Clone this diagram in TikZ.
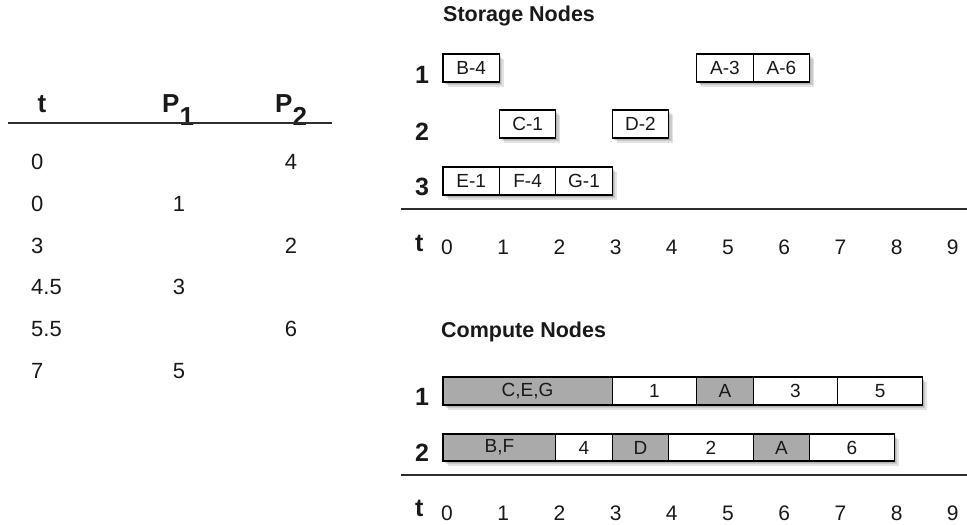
\documentclass[tikz,border=0pt]{standalone}
\usepackage{fontspec}
\setmainfont{Liberation Sans}
\usetikzlibrary{calc,backgrounds}
\definecolor{boxgray}{RGB}{170,170,170}
\definecolor{linecol}{RGB}{45,45,45}
\definecolor{txtcol}{RGB}{25,25,25}
\begin{document}
\begin{tikzpicture}[x=1pt,y=-1pt,
  every node/.style={text=txtcol},
  cell/.style={draw=black, line width=1.1pt, fill=white, minimum height=28pt, inner sep=0pt, outer sep=0pt,
    anchor=north west, font=\fontsize{19}{21}\selectfont, minimum width=#1*56.4pt},
  gcell/.style={cell=#1, fill=boxgray},
  rowlab/.style={anchor=base west, inner sep=0pt, font=\bfseries\fontsize{25}{27}\selectfont},
  tick/.style={anchor=base, inner sep=0pt, font=\fontsize{21}{23}\selectfont},
  tval/.style={anchor=base, inner sep=0pt, font=\fontsize{22}{24}\selectfont},
  thead/.style={anchor=base west, inner sep=0pt, font=\bfseries\fontsize{26}{28}\selectfont},
  title/.style={anchor=base west, inner sep=0pt, font=\bfseries\fontsize{21.5}{23}\selectfont},
  rule/.style={draw=linecol, line width=1.4pt},
  shadowA/.style={fill=black, opacity=0.11},
]
\useasboundingbox (0,0) rectangle (967,525);

% ---------- left table ----------
\node[thead, anchor=base] (th) at (42,112) {t};
\node[thead] (p1) at (162,112) {P\raisebox{-13pt}{1}};
\node[thead] (p2) at (275,112) {P\raisebox{-13pt}{2}};
\coordinate (tl) at (8,123);
\coordinate (tr) at (332,123);
\draw[rule] (tl) -- (tr);

\foreach \y/\t/\a/\b [count=\i] in {169/0//4, 211/0/1/, 253/3//2, 294/4.5/3/, 336/5.5//6, 378/7/5/}{
  \node[tval, anchor=base west] (tt\i) at (31,\y) {\t};
  \node[tval] (ta\i) at (179,\y) {\a};
  \node[tval] (tb\i) at (291,\y) {\b};
}

% ---------- storage nodes ----------
\node[title] (stitle) at (443,21) {Storage Nodes};
\node[rowlab] (sr1) at (415,83) {1};
\node[rowlab] (sr2) at (415,140) {2};
\node[rowlab] (sr3) at (415,195) {3};

\node[cell=1] (B4) at (443,54) {B-4};
\node[cell=1] (A3) at ({443+4.5*56.4},54) {A-3};
\node[cell=1] (A6) at ({443+5.5*56.4},54) {A-6};
\node[cell=1] (C1) at ({443+1*56.4},110) {C-1};
\node[cell=1] (D2) at ({443+3*56.4},110) {D-2};
\node[cell=1] (E1) at (443,167) {E-1};
\node[cell=1] (F4) at ({443+1*56.4},167) {F-4};
\node[cell=1] (G1) at ({443+2*56.4},167) {G-1};

\coordinate (sl) at (401,209);
\coordinate (sr) at (967,209);
\draw[rule] (sl) -- (sr);

\node[rowlab] (st) at (415,251) {t};
\foreach \k in {0,...,9}{
  \node[tick] (sx\k) at ({447+56.2*\k},254) {\k};
}

% ---------- compute nodes ----------
\node[title] (ctitle) at (441,337) {Compute Nodes};
\node[rowlab] (cr1) at (415,405) {1};
\node[rowlab] (cr2) at (415,461) {2};

\node[gcell=3] (c1a) at (443,377) {C,E,G};
\node[cell=1.5] (c1b) at ({443+3*56.4},377) {1};
\node[gcell=1] (c1c) at ({443+4.5*56.4},377) {A};
\node[cell=1.5] (c1d) at ({443+5.5*56.4},377) {3};
\node[cell=1.5] (c1e) at ({443+7*56.4},377) {5};

\node[gcell=2, minimum height=27pt] (c2a) at (443,434) {B,F};
\node[cell=1, minimum height=27pt] (c2b) at ({443+2*56.4},434) {4};
\node[gcell=1, minimum height=27pt] (c2c) at ({443+3*56.4},434) {D};
\node[cell=1.5, minimum height=27pt] (c2d) at ({443+4*56.4},434) {2};
\node[gcell=1, minimum height=27pt] (c2e) at ({443+5.5*56.4},434) {A};
\node[cell=1.5, minimum height=27pt] (c2f) at ({443+6.5*56.4},434) {6};

\coordinate (cl) at (401,475);
\coordinate (crr) at (967,475);
\draw[rule] (cl) -- (crr);

\node[rowlab] (ct) at (415,516) {t};
\foreach \k in {0,...,9}{
  \node[tick] (cx\k) at ({447+56.2*\k},520) {\k};
}

% ---------- shadows ----------
\begin{scope}[on background layer]
  \foreach \a/\b in {B4/B4, A3/A6, C1/C1, D2/D2, E1/G1, c1a/c1e, c2a/c2f}{
    \foreach \o in {1.5,3,4.5}{
      \fill[shadowA] ($(\a.north west)+(\o,\o)$) rectangle ($(\b.south east)+(\o,\o)$);
    }
  }
\end{scope}
\end{tikzpicture}
\end{document}
